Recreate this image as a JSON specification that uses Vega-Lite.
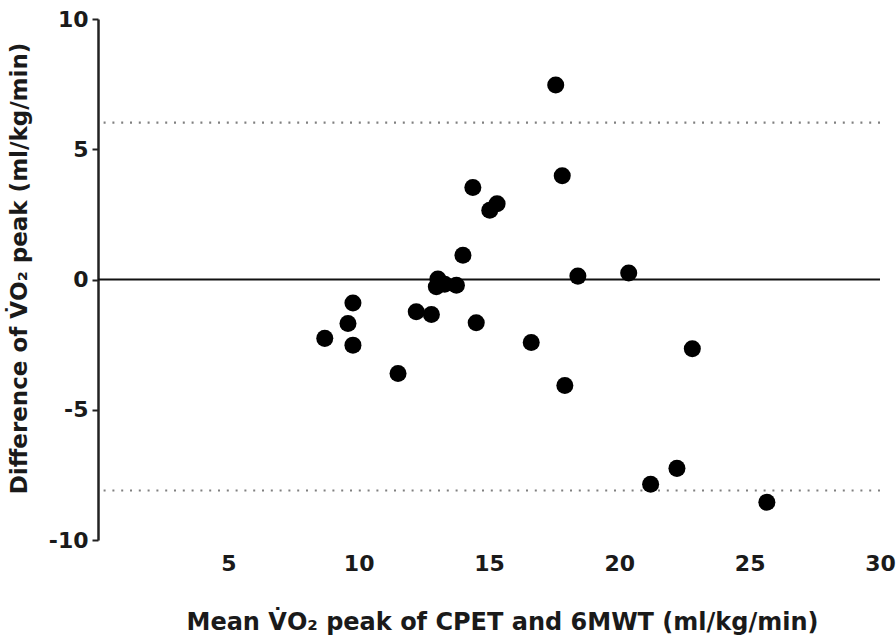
{
  "$schema": "https://vega.github.io/schema/vega-lite/v6.json",
  "width": 782,
  "height": 521,
  "autosize": "none",
  "padding": {"left": 98, "top": 19, "right": 16, "bottom": 96},
  "background": "white",
  "config": {"view": {"stroke": null}, "font": "DejaVu Sans"},
  "datasets": {
    "points": [
      {"mean": 8.70, "diff": -2.26},
      {"mean": 9.59, "diff": -1.69},
      {"mean": 9.78, "diff": -0.90},
      {"mean": 9.78, "diff": -2.52},
      {"mean": 11.51, "diff": -3.61},
      {"mean": 12.21, "diff": -1.24},
      {"mean": 12.79, "diff": -1.34},
      {"mean": 13.04, "diff": 0.02},
      {"mean": 12.98, "diff": -0.28},
      {"mean": 13.30, "diff": -0.18},
      {"mean": 13.75, "diff": -0.22},
      {"mean": 14.00, "diff": 0.93},
      {"mean": 14.38, "diff": 3.53},
      {"mean": 15.03, "diff": 2.66},
      {"mean": 15.31, "diff": 2.91},
      {"mean": 14.51, "diff": -1.66},
      {"mean": 16.62, "diff": -2.42},
      {"mean": 17.56, "diff": 7.47},
      {"mean": 17.81, "diff": 3.98},
      {"mean": 17.91, "diff": -4.07},
      {"mean": 18.41, "diff": 0.13},
      {"mean": 20.36, "diff": 0.25},
      {"mean": 21.20, "diff": -7.86},
      {"mean": 22.21, "diff": -7.25},
      {"mean": 22.80, "diff": -2.66},
      {"mean": 25.66, "diff": -8.55}
    ],
    "limits": [
      {"line": "upper limit", "diff": 6.02},
      {"line": "lower limit", "diff": -8.10}
    ],
    "zero": [
      {"line": "zero", "diff": 0}
    ]
  },
  "encoding": {
    "y": {
      "field": "diff",
      "type": "quantitative",
      "scale": {"domain": [-10, 10], "nice": false, "zero": false},
      "axis": {
        "title": "Difference of V̇O₂ peak (ml/kg/min)",
        "values": [-10, -5, 0, 5, 10],
        "labelExpr": "replace(datum.label, '−', '-')",
        "grid": false,
        "labelFlush": false,
        "domainColor": "#222",
        "domainWidth": 2.5,
        "tickColor": "#222",
        "tickWidth": 2,
        "tickSize": 6,
        "labelFont": "DejaVu Sans",
        "labelFontSize": 22,
        "labelFontWeight": "bold",
        "labelColor": "#1a1a1a",
        "labelPadding": 4,
        "titleFont": "DejaVu Sans",
        "titleFontSize": 23,
        "titleFontWeight": "bold",
        "titleColor": "#1a1a1a",
        "titleAngle": -90,
        "titleAlign": "center",
        "titleBaseline": "middle",
        "titleX": -79,
        "titleY": 249
      }
    }
  },
  "layer": [
    {
      "data": {"name": "limits"},
      "mark": {"type": "rule", "color": "#808080", "strokeWidth": 2.2, "strokeDash": [2, 6.8]},
      "encoding": {}
    },
    {
      "data": {"name": "zero"},
      "mark": {"type": "rule", "color": "#111", "strokeWidth": 2.2},
      "encoding": {}
    },
    {
      "data": {"name": "points"},
      "mark": {"type": "circle", "size": 290, "color": "#000", "opacity": 1},
      "encoding": {
        "x": {
          "field": "mean",
          "type": "quantitative",
          "scale": {"domain": [0, 30], "nice": false, "zero": false},
          "axis": {
            "title": "Mean V̇O₂ peak of CPET and 6MWT (ml/kg/min)",
            "values": [5, 10, 15, 20, 25, 30],
            "grid": false,
            "domain": false,
            "ticks": false,
            "labelFlush": false,
            "labelFont": "DejaVu Sans",
            "labelFontSize": 22,
            "labelFontWeight": "bold",
            "labelColor": "#1a1a1a",
            "labelPadding": 13,
            "titleFont": "DejaVu Sans",
            "titleFontSize": 24,
            "titleFontWeight": "bold",
            "titleColor": "#1a1a1a",
            "titleAlign": "center",
            "titleBaseline": "alphabetic",
            "titleX": 404,
            "titleY": 89
          }
        }
      }
    }
  ]
}
